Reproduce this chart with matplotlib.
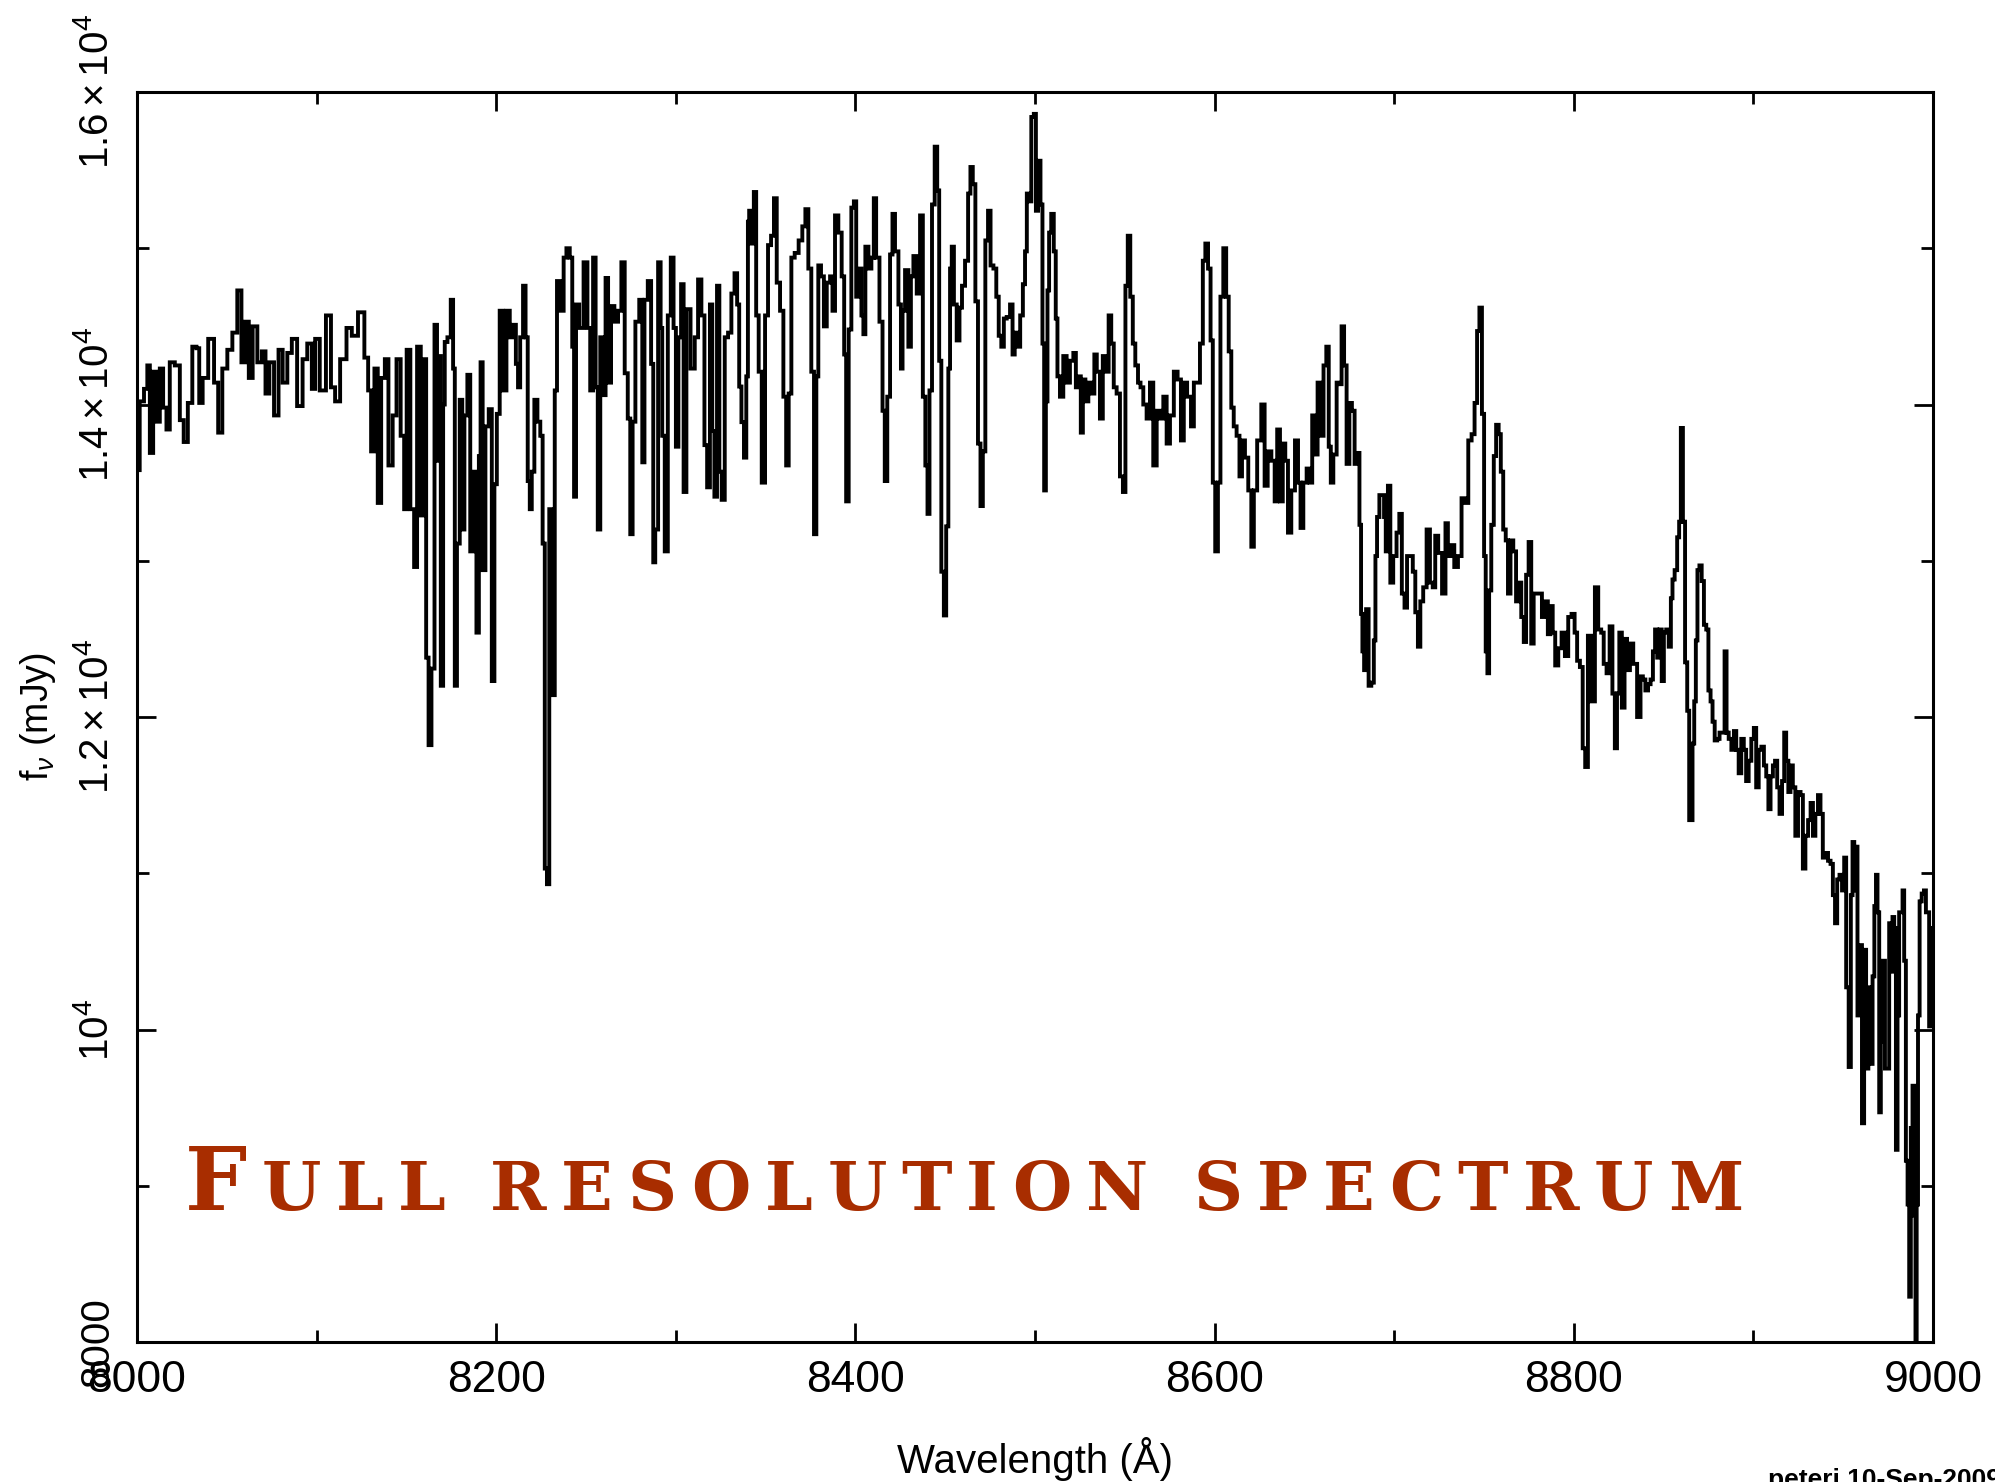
import numpy as np
import matplotlib
matplotlib.use("Agg")
import matplotlib.pyplot as plt
from matplotlib import font_manager
from matplotlib.ticker import FixedLocator, MultipleLocator

# Narrow-ish sans for axis text (falls back to DejaVu if not installed)
available = {f.name for f in font_manager.fontManager.ttflist}
sans = "Liberation Sans Narrow" if "Liberation Sans Narrow" in available else "Liberation Sans"
plt.rcParams["font.family"] = [sans, "DejaVu Sans"]
plt.rcParams["mathtext.fontset"] = "custom"
plt.rcParams["mathtext.rm"] = sans
plt.rcParams["mathtext.it"] = sans + ":italic"
plt.rcParams["mathtext.bf"] = sans + ":bold"

# ---- spectrum: wavelength (Angstrom) and flux density (mJy) ----
wave_a = [8000.5, 8002.5, 8005.3, 8006.2, 8008.1, 8009.9, 8011.8, 8013.6,
          8015.5, 8017.3, 8019.2, 8022.9, 8024.8, 8027.2, 8029.4, 8032.2,
          8034.0, 8035.3, 8037.8, 8041.5, 8044.3, 8046.1, 8048.9, 8051.7,
          8054.5, 8057.2, 8059.1, 8061.3, 8063.2, 8065.6, 8068.4, 8070.6,
          8072.5, 8074.9, 8077.7, 8079.9, 8082.3, 8085.1, 8087.3, 8091.0,
          8093.4, 8096.2, 8098.5, 8099.9, 8103.6, 8106.8, 8109.2, 8111.4,
          8114.8, 8118.5, 8120.7, 8125.4, 8127.8, 8129.6, 8131.1, 8133.3,
          8134.8, 8137.1, 8138.9, 8141.1, 8143.6, 8145.4, 8148.2, 8149.3,
          8151.0, 8153.4, 8155.2, 8156.7, 8159.3, 8160.3, 8161.7, 8163.0,
          8164.9, 8166.4, 8167.7]
flux_a = [13580, 14020, 14100, 14250, 13690, 14210, 13890, 14230,
          13980, 13840, 14270, 14250, 13900, 13760, 14010, 14370,
          14360, 14010, 14170, 14420, 14140, 13820, 14230, 14350,
          14460, 14730, 14270, 14530, 14170, 14500, 14270, 14340,
          14070, 14270, 13930, 14350, 14140, 14330, 14420, 13990,
          14290, 14390, 14100, 14420, 14090, 14570, 14110, 14020,
          14290, 14490, 14440, 14590, 14300, 14090, 13700, 14230,
          13370, 14170, 14290, 13610, 13930, 14290, 13800, 13330,
          14350, 13330, 12960, 14370, 13290, 14290, 12380, 11820,
          12310, 14510, 13640]

wave_b = [8168.2, 8170.1, 8170.8, 8171.9, 8173.8, 8175.6, 8176.4, 8177.5,
          8178.8, 8180.6, 8181.6, 8183.0, 8184.9, 8186.2, 8188.1, 8189.9,
          8190.8, 8191.8, 8193.1, 8194.9, 8196.8, 8198.3, 8199.7, 8201.0,
          8202.9, 8204.8, 8206.6, 8208.5, 8210.3, 8211.6, 8212.7, 8214.0,
          8215.9, 8216.8, 8218.3, 8219.1, 8220.5, 8222.0, 8223.9, 8225.2,
          8226.5, 8227.6, 8228.9, 8230.2, 8232.0, 8233.2, 8234.5, 8236.9,
          8238.2, 8240.0, 8241.9, 8242.8, 8243.9, 8245.0, 8247.4, 8249.9,
          8251.7, 8253.0, 8254.9, 8255.8, 8257.3, 8258.6, 8260.4, 8261.4,
          8263.2, 8264.7, 8266.9, 8268.8, 8270.6, 8272.5, 8274.0, 8275.3,
          8276.6, 8278.4, 8280.9, 8281.8, 8283.3, 8285.5, 8287.0, 8287.9,
          8289.2, 8291.1, 8292.0, 8292.9, 8294.8, 8296.3, 8298.1, 8299.4,
          8300.7, 8302.2, 8303.7, 8305.0, 8306.8, 8309.6, 8311.5, 8313.3,
          8315.2, 8316.7, 8318.2, 8319.8, 8320.8, 8322.2, 8323.7, 8324.8,
          8326.3, 8328.2, 8330.0, 8331.9]
flux_b = [14310, 12200, 14000, 14400, 14430, 14670, 14230, 12200,
          13110, 14030, 13200, 13930, 14190, 13060, 13570, 12540,
          13670, 14270, 12940, 13860, 13970, 12230, 13490, 13940,
          14600, 14090, 14600, 14430, 14510, 14260, 14110, 14430,
          14760, 14430, 13510, 13330, 13570, 14030, 13890, 13800,
          13110, 11030, 10930, 13330, 12140, 14090, 14790, 14600,
          14940, 15000, 14940, 14370, 13410, 14640, 14490, 14910,
          14490, 14090, 14940, 14110, 13200, 14430, 14060, 14810,
          14140, 14630, 14530, 14600, 14910, 14200, 13910, 13170,
          13890, 14530, 14670, 13630, 14670, 14790, 14260, 12990,
          13200, 14910, 14490, 13800, 13060, 14570, 14940, 14490,
          13730, 14430, 14770, 13440, 14610, 14230, 14430, 14800,
          14570, 13740, 13470, 14640, 13830, 13410, 14760, 13570,
          13390, 14430, 14460, 14710]

wave_c = [8333.5, 8334.8, 8335.8, 8337.3, 8338.6, 8339.9, 8340.4, 8341.3,
          8342.8, 8344.1, 8345.4, 8346.9, 8348.8, 8350.6, 8352.1, 8354.0,
          8355.3, 8357.1, 8359.0, 8360.8, 8362.1, 8363.6, 8365.1, 8367.3,
          8369.5, 8371.4, 8372.9, 8374.7, 8376.2, 8377.7, 8378.8, 8379.9,
          8381.8, 8383.1, 8385.0, 8386.8, 8387.7, 8389.6, 8391.4, 8393.3,
          8394.2, 8395.5, 8397.0, 8398.5, 8399.8, 8401.1, 8402.6, 8404.1,
          8404.8, 8406.3, 8408.2, 8409.6, 8410.9, 8412.2, 8414.6, 8415.6,
          8417.1, 8418.4, 8420.2, 8421.1, 8423.0, 8424.9, 8425.8, 8426.7,
          8428.6, 8430.4, 8431.4, 8433.2, 8435.1, 8436.9, 8438.2, 8439.7,
          8440.6, 8441.9, 8443.4, 8444.9, 8446.2, 8447.1, 8448.6, 8449.9,
          8451.2, 8452.3, 8453.1, 8454.2, 8455.5, 8457.3, 8458.6, 8460.1,
          8462.0, 8463.5, 8464.6, 8466.1, 8467.5, 8469.0, 8470.3, 8471.6,
          8473.1, 8474.6, 8475.9, 8477.8, 8479.1, 8480.5, 8482.0, 8483.3,
          8485.2, 8487.0, 8488.0, 8489.4, 8490.9, 8492.6, 8493.9, 8495.0,
          8495.9, 8497.2, 8498.7, 8500.0, 8501.0, 8502.4]
flux_c = [14840, 14640, 14115, 13887, 13660, 14180, 15170, 15240,
          15030, 15360, 14570, 14210, 13500, 14570, 15020, 15080,
          15320, 14780, 14600, 14050, 13610, 14070, 14940, 14970,
          15050, 15140, 15250, 14870, 14210, 13170, 14180, 14890,
          14820, 14500, 14780, 14820, 14600, 15210, 15100, 14820,
          14320, 13380, 14480, 15260, 15300, 14690, 14870, 14570,
          14450, 15010, 14870, 14940, 15320, 14940, 14530, 13960,
          13510, 14050, 14960, 15220, 14980, 14640, 14230, 14600,
          14860, 14370, 14820, 14950, 14710, 15210, 14050, 13610,
          13300, 14090, 15280, 15650, 15370, 14280, 12930, 12650,
          13220, 14230, 14870, 15010, 14640, 14410, 14620, 14760,
          14920, 15350, 15520, 15410, 14660, 13750, 13350, 13700,
          15050, 15240, 14890, 14870, 14690, 14440, 14370, 14550,
          14560, 14640, 14320, 14460, 14370, 14570, 14770, 14980,
          15350, 15300, 15840, 15860, 15240, 15560]

wave_d = [8503.7, 8504.6, 8505.6, 8506.5, 8507.4, 8508.3, 8509.8, 8511.1,
          8512.0, 8513.0, 8514.8, 8516.7, 8518.5, 8520.4, 8522.3, 8523.2,
          8525.0, 8526.0, 8527.3, 8528.8, 8530.6, 8532.5, 8533.6, 8535.2,
          8537.1, 8538.4, 8540.3, 8541.7, 8543.2, 8544.5, 8546.4, 8548.2,
          8549.7, 8551.0, 8552.3, 8553.8, 8555.1, 8556.6, 8558.1, 8559.4,
          8561.2, 8563.1, 8564.9, 8566.8, 8568.7, 8570.5, 8572.4, 8574.2,
          8576.1, 8578.5, 8580.3, 8582.2, 8583.5, 8585.9, 8587.8, 8589.1,
          8590.9, 8592.8, 8594.1, 8595.6, 8597.1, 8598.4, 8599.6, 8601.1,
          8602.6, 8603.9, 8605.8, 8607.1, 8608.6, 8610.0, 8611.3, 8613.2,
          8614.5, 8616.0, 8617.8, 8619.7, 8621.2, 8622.5, 8624.9, 8627.1,
          8628.6, 8630.5, 8632.7, 8634.2, 8635.5, 8637.3, 8638.6, 8640.1,
          8641.6, 8643.8, 8645.7, 8647.2, 8648.5, 8650.3, 8652.2, 8653.7,
          8655.0, 8656.4, 8658.3, 8659.8, 8661.5, 8662.9, 8664.2, 8665.2,
          8667.0, 8668.9]
flux_d = [15280, 14390, 13450, 14020, 14730, 15100, 15220, 14980,
          14550, 14180, 14050, 14310, 14140, 14280, 14330, 14110,
          14180, 13820, 14160, 14020, 14140, 14070, 14320, 14210,
          13910, 14310, 14210, 14570, 14390, 14110, 14070, 13540,
          13440, 14760, 15080, 14690, 14390, 14250, 14140, 14110,
          14000, 13910, 14140, 13610, 13960, 13910, 14050, 13750,
          13930, 14210, 14160, 13770, 14140, 14050, 13860, 14140,
          14140, 14390, 14920, 15030, 14870, 14410, 13500, 13060,
          13500, 14690, 15000, 14690, 14340, 13980, 13860, 13800,
          13540, 13770, 13660, 13450, 13090, 13450, 13770, 14000,
          13480, 13700, 13640, 13380, 13840, 13380, 13750, 13640,
          13180, 13450, 13770, 13500, 13210, 13500, 13590, 13500,
          13930, 13680, 14140, 13800, 14250, 14370, 13730, 13500,
          13680, 14140]

wave_e = [8669.8, 8671.6, 8672.6, 8674.4, 8675.7, 8677.2, 8678.7, 8680.0,
          8681.3, 8681.8, 8682.8, 8683.7, 8685.0, 8686.5, 8688.0, 8689.3,
          8689.8, 8691.1, 8692.4, 8693.9, 8694.8, 8695.8, 8697.2, 8698.5,
          8700.4, 8702.2, 8703.5, 8705.0, 8706.5, 8707.8, 8709.7, 8711.0,
          8712.5, 8713.9, 8715.2, 8717.1, 8719.0, 8720.8, 8722.1, 8723.6,
          8725.4, 8727.9, 8729.2, 8730.6, 8732.5, 8734.4, 8736.6, 8738.4,
          8740.3, 8742.2, 8744.0, 8745.5, 8746.8, 8748.1, 8749.6, 8750.5,
          8751.4, 8752.4, 8753.3, 8754.8, 8756.1, 8757.4, 8758.9, 8759.8,
          8761.6, 8762.6, 8764.1, 8765.4, 8767.2, 8768.5, 8770.0, 8771.5,
          8772.8, 8774.1, 8775.6, 8777.0, 8778.3, 8780.2, 8781.5, 8783.0,
          8784.8, 8786.3, 8787.6, 8788.9, 8790.4, 8792.3, 8794.1, 8796.0,
          8797.8, 8799.7, 8801.2, 8802.5, 8804.3, 8805.6, 8807.1, 8808.6,
          8810.8, 8812.7, 8814.5, 8816.0, 8817.3, 8819.2, 8820.7, 8822.3,
          8823.4, 8824.7, 8826.0, 8827.5, 8829.0, 8830.3, 8832.2, 8834.0]
flux_e = [14130, 14500, 14250, 13620, 14010, 13960, 13620, 13690,
          13230, 12660, 12420, 12300, 12690, 12200, 12220, 12490,
          13030, 13280, 13420, 13420, 13280, 13060, 13480, 12860,
          13030, 13180, 13300, 12790, 12700, 13030, 13030, 12930,
          12670, 12450, 12740, 12830, 13200, 12860, 12830, 13160,
          13050, 12790, 13240, 13030, 13100, 12960, 13030, 13400,
          13370, 13770, 13810, 14010, 14470, 14620, 13940, 13030,
          12420, 12280, 12810, 13230, 13670, 13870, 13810, 13570,
          13200, 13130, 12790, 13130, 13060, 12740, 12860, 12640,
          12480, 12910, 13120, 12470, 12790, 12790, 12790, 12640,
          12740, 12530, 12710, 12540, 12330, 12440, 12540, 12390,
          12640, 12660, 12540, 12360, 12320, 11800, 11680, 12520,
          12100, 12830, 12560, 12540, 12340, 12280, 12580, 12150,
          11800, 12150, 12540, 12060, 12500, 12300, 12470, 12340]

wave_f = [8836.5, 8837.8, 8839.1, 8840.6, 8842.1, 8843.4, 8844.7, 8845.8,
          8847.1, 8848.4, 8849.5, 8850.8, 8852.1, 8853.6, 8854.5, 8855.4,
          8856.9, 8858.2, 8859.1, 8860.1, 8861.4, 8862.5, 8863.8, 8864.7,
          8865.6, 8866.6, 8867.5, 8868.4, 8869.3, 8870.6, 8871.8, 8873.1,
          8874.4, 8875.5, 8876.8, 8877.7, 8879.2, 8880.5, 8881.8, 8883.3,
          8884.6, 8885.5, 8887.0, 8888.5, 8889.8, 8891.1, 8892.5, 8894.0,
          8895.3, 8896.6, 8898.1, 8899.6, 8900.9, 8902.2, 8903.7, 8905.2,
          8906.5, 8907.8, 8908.9, 8910.2, 8911.5, 8912.6, 8913.9, 8915.2,
          8916.7, 8917.6, 8918.9, 8920.0, 8921.3, 8922.6, 8924.1, 8925.6,
          8926.9, 8928.2, 8929.7, 8931.2, 8932.5, 8933.8, 8935.2, 8936.7,
          8938.0, 8939.3, 8940.8, 8942.3, 8943.6, 8944.9, 8946.0, 8947.3,
          8948.6, 8950.1, 8951.0, 8952.3, 8953.8, 8954.7, 8955.7, 8956.6,
          8957.5, 8958.4, 8959.7, 8961.2, 8962.1, 8963.4, 8964.6, 8965.9,
          8966.8, 8967.9, 8968.6, 8969.6, 8970.5, 8971.4, 8972.7, 8973.8,
          8975.1, 8976.1, 8977.0, 8977.9, 8978.9, 8979.8, 8980.7, 8981.6,
          8982.6, 8983.5, 8984.4, 8985.4, 8986.3, 8987.2, 8988.1, 8989.1,
          8990.0, 8990.5, 8991.3, 8992.0, 8993.1, 8994.3, 8995.6, 8996.5,
          8997.4, 8998.3, 8999.5]
flux_f = [12000, 12260, 12240, 12170, 12210, 12240, 12420, 12560,
          12380, 12560, 12230, 12540, 12560, 12450, 12760, 12880,
          12940, 13150, 13250, 13850, 13250, 12350, 12040, 11340,
          11340, 11830, 12100, 12490, 12940, 12970, 12870, 12590,
          12560, 12170, 12100, 11970, 11850, 11860, 11900, 11900,
          12420, 11900, 11860, 11790, 11910, 11790, 11640, 11860,
          11790, 11590, 11720, 11860, 11930, 11550, 11790, 11810,
          11690, 11620, 11410, 11620, 11690, 11720, 11550, 11380,
          11590, 11900, 11720, 11520, 11690, 11550, 11240, 11520,
          11500, 11030, 11240, 11340, 11450, 11240, 11380, 11500,
          11380, 11100, 11130, 11080, 11060, 10860, 10680, 10960,
          10990, 10890, 11100, 10270, 9760, 10860, 11200, 10890,
          11170, 10090, 10540, 9400, 10510, 9750, 10270, 9780,
          10340, 10790, 10990, 10750, 9470, 9920, 10440, 9750,
          9750, 10680, 10370, 10720, 10650, 9230, 10090, 10750,
          10750, 10890, 10440, 9160, 8880, 8290, 9370, 9640,
          8810, 7800, 8880, 10090, 10820, 10870, 10890, 10750,
          10750, 10020, 10650]

wavelength = np.concatenate([wave_a, wave_b, wave_c, wave_d, wave_e, wave_f])
flux = np.concatenate([flux_a, flux_b, flux_c, flux_d, flux_e, flux_f])

x_major = [8000, 8200, 8400, 8600, 8800, 9000]
y_major = [8000, 10000, 12000, 14000, 16000]
y_labels = ["8000", r"$10^4$", r"$1.2\times10^4$", r"$1.4\times10^4$", r"$1.6\times10^4$"]
title_text = "Full resolution spectrum"
stamp_text = "peteri 10-Sep-2009"

W, H = 1995, 1482
fig = plt.figure(figsize=(W / 100, H / 100), dpi=100)
ax = fig.add_axes([137 / W, 140 / H, 1796 / W, 1250 / H])

ax.plot(wavelength, flux, drawstyle="steps-mid", color="black", lw=2.8,
        solid_joinstyle="miter")

ax.set_xlim(8000, 9000)
ax.set_ylim(8000, 16000)
ax.xaxis.set_major_locator(FixedLocator(x_major))
ax.xaxis.set_minor_locator(MultipleLocator(100))
ax.yaxis.set_major_locator(FixedLocator(y_major))
ax.yaxis.set_minor_locator(MultipleLocator(1000))
ax.set_xticklabels([str(v) for v in x_major], fontsize=32)
ax.set_yticklabels(y_labels, fontsize=29, rotation=90, va="center")

ax.tick_params(which="both", direction="in", top=True, right=True, width=2.0)
ax.tick_params(which="major", length=14)
ax.tick_params(which="minor", length=8.5)
ax.tick_params(axis="x", which="major", pad=13)
ax.tick_params(axis="y", which="major", pad=15)
for s in ax.spines.values():
    s.set_linewidth(2.2)

ax.set_xlabel("Wavelength (Å)", fontsize=29, labelpad=26)
ax.set_ylabel(r"f$_\nu$ (mJy)", fontsize=27, labelpad=14)

# Small-caps title, letter by letter with extra tracking
renderer = fig.canvas.get_renderer()
title_color = "#a82d00"
x0, x1 = 185, 1743
base_y = 1 - 1210 / H
pieces = []
for i, ch in enumerate(title_text):
    if ch == " ":
        pieces.append(None)
        continue
    size = 63 if i == 0 else 49
    t = fig.text(0, base_y, ch.upper(), fontsize=size, color=title_color,
                 family="DejaVu Serif", fontweight="bold", va="baseline", ha="left")
    pieces.append(t)
widths = [p.get_window_extent(renderer).width if p is not None else 0 for p in pieces]
space_w = 30
n_letters = sum(p is not None for p in pieces)
n_spaces = len(pieces) - n_letters
track = ((x1 - x0) - sum(widths) - n_spaces * space_w) / (n_letters - 1)
x = x0
for p, w in zip(pieces, widths):
    if p is None:
        x += space_w
        continue
    p.set_x(x / W)
    x += w + track

fig.text(1768 / W, 1 - 1468 / H, stamp_text, fontsize=19, fontweight="bold",
         va="top", ha="left")

fig.savefig("out.png", dpi=100)
